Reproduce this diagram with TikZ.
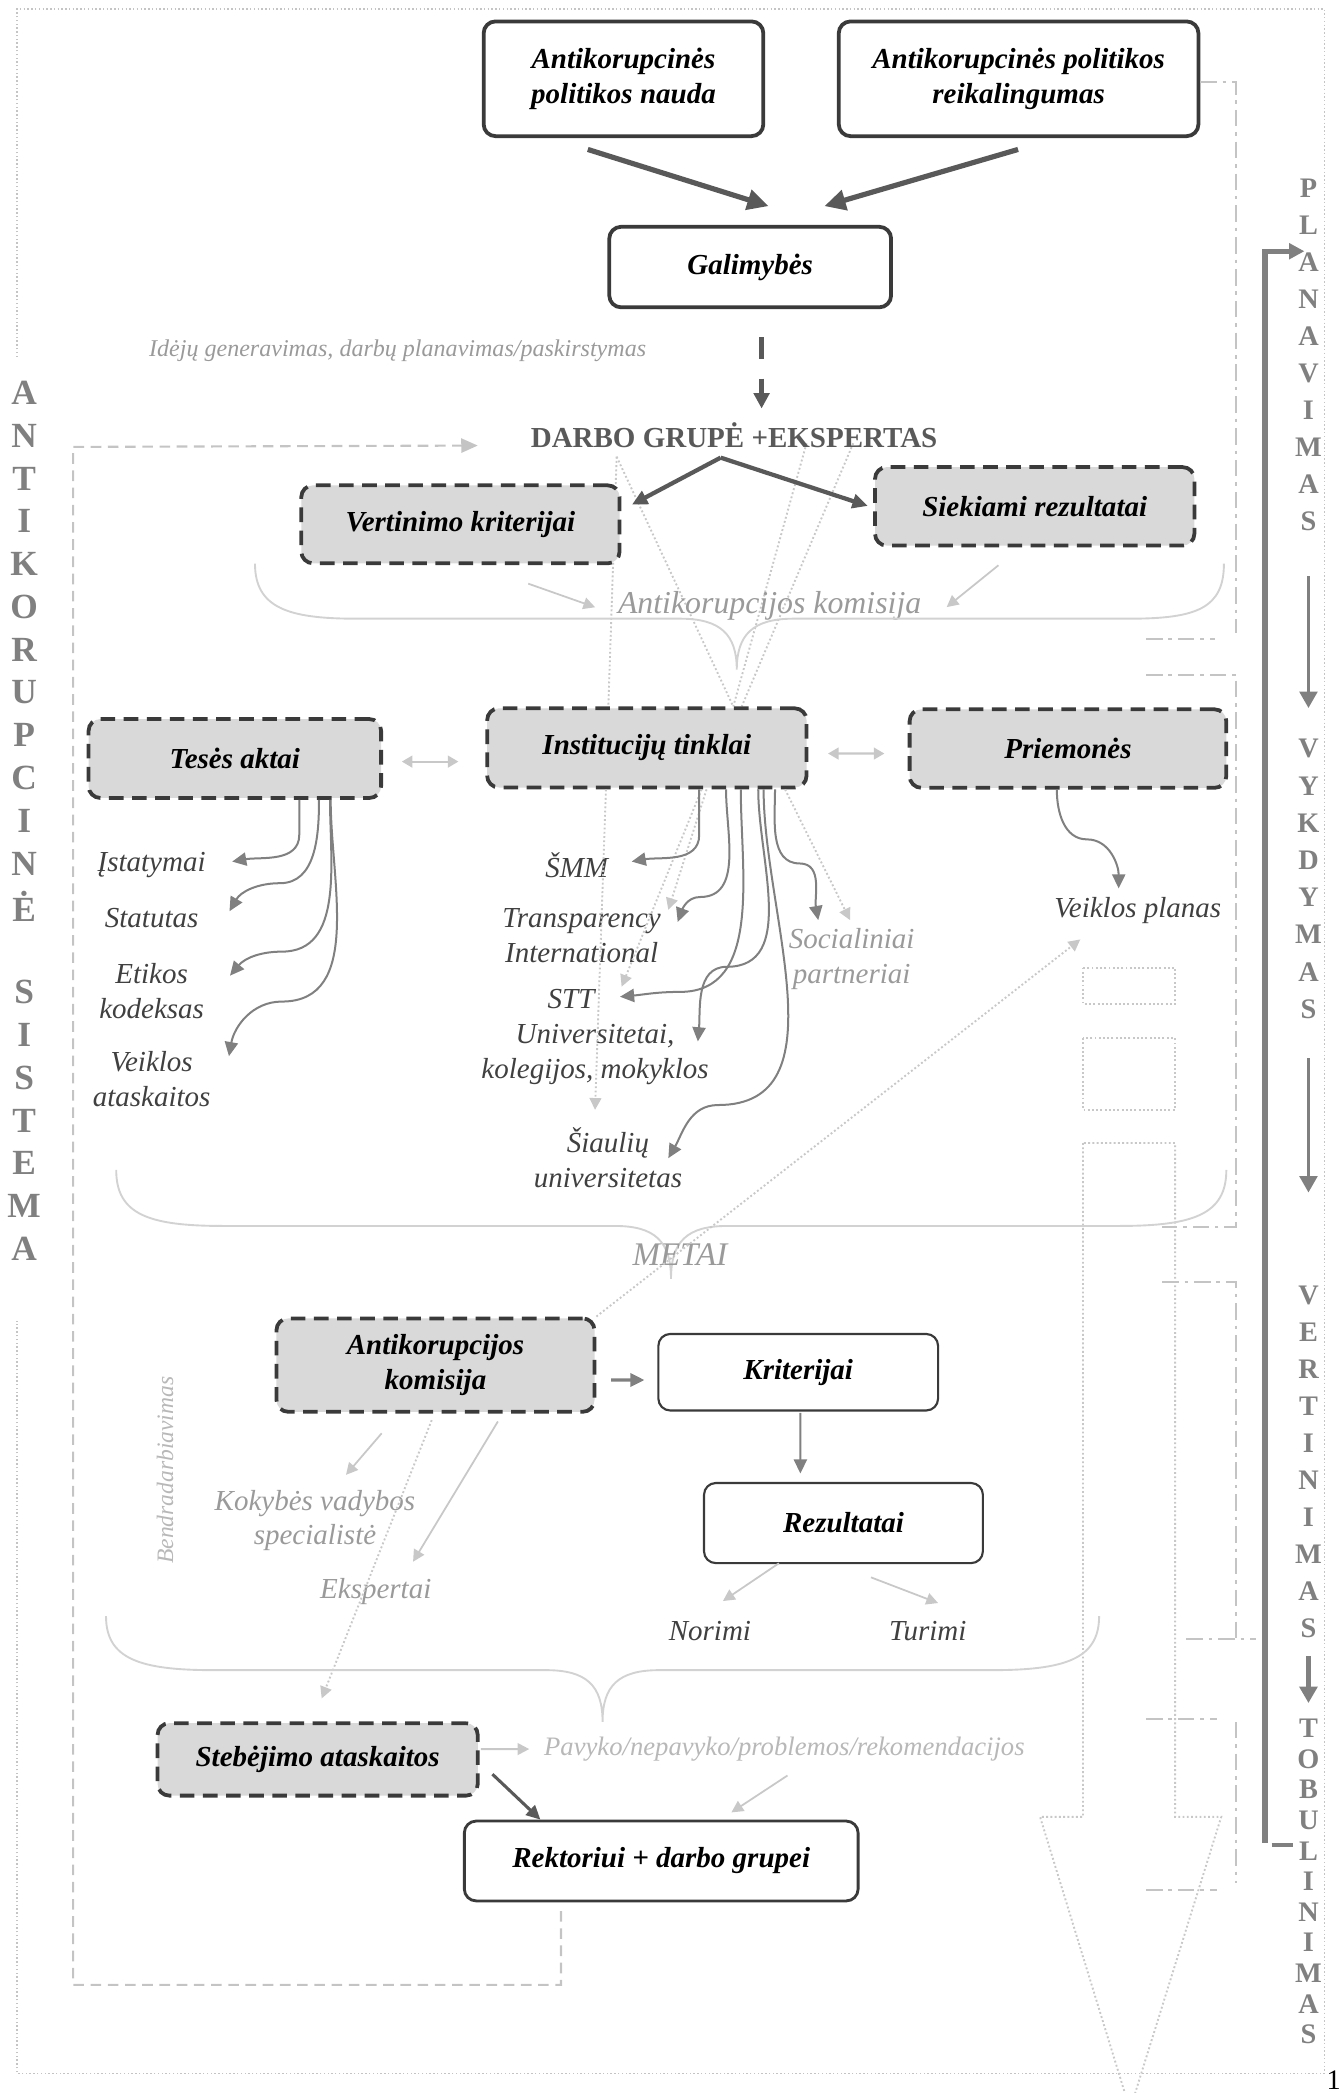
\documentclass[tikz,border=0pt]{standalone}
\usepackage{fontspec}
\setmainfont{Liberation Serif}
\usetikzlibrary{shapes,arrows,arrows.meta,calc,backgrounds}

\definecolor{boxline}{HTML}{3A3A3A}
\definecolor{boxfill}{HTML}{D9D9D9}
\definecolor{darkline}{HTML}{595959}
\definecolor{midline}{HTML}{808080}
\definecolor{paleline}{HTML}{C8C8C8}
\definecolor{frameline}{HTML}{C4C4C4}
\definecolor{braceline}{HTML}{D2D2D2}
\definecolor{labeltext}{HTML}{404040}
\definecolor{greytext}{HTML}{9A9A9A}
\definecolor{paletext}{HTML}{B8B8B8}

\newlength{\px}
\setlength{\px}{0.02cm}
\newcommand{\boxfont}{\fontsize{12.3}{14.7}\selectfont\bfseries\itshape}
\newcommand{\lblfont}{\fontsize{12.3}{14.7}\selectfont\itshape}

\tikzstyle{block} = [rectangle, draw=boxline, line width=1.6pt, rounded corners=5pt,
    fill=white, text=black, align=center, inner sep=0pt, font=\boxfont]
\tikzstyle{dashblock} = [block, fill=boxfill, dash pattern=on 6.2pt off 3.6pt]
\tikzstyle{thinblock} = [block, line width=0.9pt]
\tikzstyle{grouptitle} = [text=darkline, inner sep=0pt, font=\fontsize{12.3}{14.7}\selectfont\bfseries]
\tikzstyle{lbl} = [text=labeltext, align=center, inner sep=0pt, font=\lblfont]
\tikzstyle{greylbl} = [lbl, text=greytext]
\tikzstyle{palelbl} = [lbl, text=paletext]
\tikzstyle{sideletter} = [text=midline, inner sep=0pt, font=\fontsize{15}{17}\selectfont\bfseries]
\tikzstyle{phase} = [text=midline, inner sep=0pt, font=\fontsize{12}{14}\selectfont\bfseries]
\tikzstyle{bigline} = [draw=darkline, line width=2.2pt, -{Triangle[length=9pt,width=8.5pt]}]
\tikzstyle{line} = [draw=midline, line width=0.85pt, -{Triangle[length=6pt,width=5.6pt]}]
\tikzstyle{faint} = [draw=paleline, line width=0.75pt, -{Triangle[length=5pt,width=5pt]}]
\tikzstyle{twoway} = [draw=paleline, line width=0.9pt,
    arrows={Triangle[length=4.5pt,width=5pt]-Triangle[length=4.5pt,width=5pt]}]
\tikzstyle{fan} = [draw=paleline, line width=0.8pt, densely dotted]
\tikzstyle{fanarrow} = [fan, -{Triangle[length=5pt,width=5pt]}]
\tikzstyle{outerframe} = [draw=frameline, line width=0.6pt, densely dotted]
\tikzstyle{bracketline} = [draw=frameline, line width=0.8pt, dash pattern=on 7pt off 2.5pt on 1.5pt off 2.5pt]
\tikzstyle{loopline} = [draw=frameline, line width=0.9pt, dash pattern=on 4.5pt off 2.8pt,
    -{Triangle[length=7pt,width=6pt]}]
\tikzstyle{bracecurve} = [draw=braceline, line width=0.8pt]
\tikzstyle{stage} = [draw=midline, line width=1.5pt, -{Triangle[length=7pt,width=7.5pt]}]

\begin{document}
\begin{tikzpicture}[x=0.02cm, y=-0.02cm]
\useasboundingbox (0,0) rectangle (1000,1559.6);

\draw[outerframe] (12.8,266) -- (12.8,6.6) -- (987,6.6) -- (987,1545) -- (12.8,1545) -- (12.8,984);

% top
\node [block, minimum width=208.4\px, minimum height=85.5\px] (nauda) at (464.6,58.7) {Antikorupcinės\\politikos nauda};
\node [block, minimum width=268\px, minimum height=85.5\px] (reikal) at (759,58.7) {Antikorupcinės politikos\\reikalingumas};
\node [block, minimum width=210\px, minimum height=60\px] (galim) at (559,199) {Galimybės};
\node [greylbl, font=\fontsize{10.2}{12}\selectfont\itshape] (ideju) at (296.3,261) {Idėjų generavimas, darbų planavimas/paskirstymas};
\node [grouptitle] (darbo) at (547,324) {DARBO GRUPĖ +EKSPERTAS};
\node [dashblock, minimum width=237.2\px, minimum height=58.1\px] (vertin) at (343.1,390.7) {Vertinimo kriterijai};
\node [dashblock, minimum width=238\px, minimum height=58.5\px] (siek) at (771,377.3) {Siekiami rezultatai};
\node [greylbl, font=\fontsize{13.5}{16}\selectfont\itshape] (komisija) at (573.5,451.6) {Antikorupcijos komisija};

\path [bigline] ($(nauda.south)+(-26.6,8.5)$) -- ($(galim.north)+(13.7,-14)$);
\path [bigline] ($(reikal.south)+(-0.4,8.5)$) -- ($(galim.north)+(55.3,-14)$);
\path [bigline, line width=1.9pt, dash pattern=on 9pt off 8.5pt, -{Triangle[length=6.5pt,width=6.5pt]}]
    ($(galim.south)+(8.5,21)$) -- ($(galim.south)+(8.5,74)$);
\path [bigline, line width=1.8pt, -{Triangle[length=6.5pt,width=6pt]}] ($(darbo.center)+(-10,17)$) -- ($(vertin.east)+(7.8,-14.7)$);
\path [bigline, line width=1.8pt, -{Triangle[length=6.5pt,width=6pt]}] ($(darbo.center)+(-10,17)$) -- ($(siek.west)+(-4,-0.3)$);
\path [faint] ($(vertin.south)+(50.5,13.75)$) -- ($(komisija.center)+(-130,0.9)$);
\path [faint] ($(siek.south)+(-27,13.25)$) -- ($(komisija.center)+(131.9,0.8)$);

\draw[bracecurve] (190,420) .. controls (190,453) and (215,461) .. (265,461) -- (507,461)
    .. controls (537,461) and (549,473) .. (549,499) .. controls (549,473) and (561,461) .. (591,461)
    -- (842,461) .. controls (892,461) and (912,453) .. (912,420);

% middle
\node [dashblock, minimum width=218\px, minimum height=58.8\px] (teises) at (175,565.2) {Tesės aktai};
\node [dashblock, minimum width=238\px, minimum height=59\px] (instit) at (482,557.3) {Institucijų tinklai};
\node [dashblock, minimum width=236\px, minimum height=58.5\px] (priem) at (795.8,557.8) {Priemonės};

\node [lbl] (istat) at (113,644.6) {Įstatymai};
\node [lbl] (statut) at (113,684.4) {Statutas};
\node [lbl] (etikos) at (113,738.6) {Etikos\\kodeksas};
\node [lbl] (veikl) at (113,804.2) {Veiklos\\ataskaitos};
\node [lbl] (smm) at (429.7,644.6) {ŠMM};
\node [lbl] (transp) at (433.4,697) {Transparency\\International};
\node [lbl] (stt) at (425.5,744.7) {STT};
\node [lbl] (univ) at (443.4,786) {Universitetai,\\kolegijos, mokyklos};
\node [lbl] (siaul) at (453,862.5) {Šiaulių\\universitetas};
\node [greylbl] (social) at (634.6,714.7) {Socialiniai\\partneriai};
\node [lbl] (vplanas) at (847.8,678.8) {Veiklos planas};

\begin{pgfonlayer}{background}
\path [fan] ($(darbo.center)+(-87.5,16.3)$) -- ($(instit.north)+(-28.7,0)$);
\path [fan] ($(darbo.center)+(-87.5,16.3)$) -- ($(instit.north)+(64.4,0)$);
\path [fan] ($(darbo.center)+(54,6.3)$) -- ($(instit.north)+(64.4,0)$);
\path [fan] ($(darbo.center)+(88.8,6.3)$) -- ($(instit.north)+(70.7,0)$);
\end{pgfonlayer}
\path [fanarrow] ($(instit.south)+(-30.5,0)$) -- ($(siaul.center)+(-9.6,-35.5)$);
\path [fanarrow] ($(instit.south)+(40.8,0)$) -- ($(stt.center)+(37.7,-9.5)$);
\path [fanarrow] ($(instit.south)+(44.5,0)$) -- ($(transp.center)+(64.6,-19)$);
\path [fanarrow] ($(instit.south)+(103,0)$) -- ($(social.center)+(-1.2,-29.1)$);

\path [twoway] ($(teises.east)+(14,2.3)$) -- ($(instit.west)+(-20,10.2)$);
\path [twoway] ($(instit.east)+(14.6,4.2)$) -- ($(priem.west)+(-17.4,3.7)$);

\path [line] ($(teises.south)+(48,0)$) -- ++(0,26) to[out=-90,in=10] ($(istat.center)+(60,-2.6)$);
\path [line] ($(teises.south)+(62.7,0)$) to[out=-90,in=0] ++(-29.1,62.1) to[out=180,in=60] ($(statut.center)+(58,-5.4)$);
\path [line] ($(teises.south)+(70.9,0)$) to[out=-90,in=0] ++(-35.9,113.1) to[out=180,in=50] ($(etikos.center)+(58.4,-11.6)$);
\path [line] ($(teises.south)+(71.4,0)$) to[out=-90,in=0] ++(-36.4,150.3) to[out=180,in=80] ($(veikl.center)+(57.6,-17.2)$);

\path [line] ($(instit.south)+(39,0)$) -- ++(0,34) to[out=-90,in=10] ($(smm.center)+(41,-2.6)$);
\path [line] ($(instit.south)+(59,0)$) to[out=-90,in=0] ++(-19.4,80.2) to[out=180,in=70] ($(transp.center)+(71.6,-10)$);
\path [line] ($(instit.south)+(70,0)$) to[out=-90,in=0] ++(-45.3,150.9) to[out=180,in=5] ($(stt.center)+(36.5,-2)$);
\path [line] ($(instit.south)+(83,0)$) to[out=-90,in=0] ++(-23.5,132.2) to[out=180,in=85] ($(univ.center)+(76.6,-10)$);
\path [line] ($(instit.south)+(87,0)$) to[out=-90,in=0] ++(-34,235.2) to[out=180,in=60] ($(siaul.center)+(45,0.5)$);
\path [line] ($(instit.south)+(95.5,0)$) to[out=-90,in=180] ++(18.5,55.2) to[out=0,in=100] ($(social.center)+(-24.9,-29.1)$);
\path [line] ($(priem.south)+(-8.3,0)$) to[out=-90,in=180] ++(22.5,37) to[out=0,in=90] ($(vplanas.center)+(-14.2,-16.8)$);

\draw[fan] (807,721) rectangle (875.6,748);
\draw[fan] (807,773.6) rectangle (875.6,827);
\draw[fan] (807,851.7) -- (807,1353.8) -- (775,1353.8) -- (842,1572) -- (910,1353.8) -- (875.6,1353.8) -- (875.6,851.7) -- cycle;

\draw[bracecurve] (86.6,871.8) .. controls (86.6,905) and (111,913.5) .. (166,913.5) -- (458,913.5)
    .. controls (488,913.5) and (500,925) .. (500,953) .. controls (500,925) and (512,913.5) .. (542,913.5)
    -- (834,913.5) .. controls (889,913.5) and (913.8,905) .. (913.8,871.8);
\node [greylbl, font=\fontsize{14}{16}\selectfont\itshape] (metai) at (506.6,935) {METAI};

% bottom
\node [dashblock, minimum width=237\px, minimum height=69.6\px] (akomis) at (324.5,1017.2) {Antikorupcijos\\komisija};
\node [thinblock, minimum width=208.4\px, minimum height=57\px] (krit) at (594.8,1022.5) {Kriterijai};
\node [thinblock, minimum width=207.8\px, minimum height=59.7\px] (rezult) at (628.5,1134.9) {Rezultatai};
\node [lbl] (norimi) at (529,1215.5) {Norimi};
\node [lbl] (turimi) at (691.3,1215.5) {Turimi};
\node [greylbl] (kokyb) at (234.7,1133) {Kokybės vadybos\\specialistė};
\node [greylbl] (eksp) at (280,1186) {Ekspertai};
\node [palelbl, font=\fontsize{10}{12}\selectfont\itshape, rotate=90] (bendr) at (123,1095.5) {Bendradarbiavimas};
\node [dashblock, minimum width=238.6\px, minimum height=54\px] (stebej) at (236.7,1311) {Stebėjimo ataskaitos};
\node [palelbl, font=\fontsize{11.3}{13}\selectfont\itshape] (pavyko) at (584.5,1303) {Pavyko/nepavyko/problemos/rekomendacijos};
\node [block, line width=1.2pt, minimum width=293.4\px, minimum height=59.5\px] (rekt) at (492.7,1386.7) {Rektoriui + darbo grupei};

\path [line, line width=1.3pt] ($(akomis.east)+(11,11.1)$) -- ($(krit.west)+(-9.6,5.8)$);
\path [line] ($(krit.south)+(1.6,1)$) -- ($(rezult.north)+(-32.1,-6.3)$);
\path [faint] ($(rezult.south)+(-48.1,-0.7)$) -- ($(norimi.center)+(9.7,-22.5)$);
\path [faint] ($(rezult.south)+(20.5,9.8)$) -- ($(turimi.center)+(7.7,-21)$);
\path [faint] ($(akomis.south)+(-40.1,14.6)$) -- ($(kokyb.center)+(23.1,-34)$);
\path [faint] ($(akomis.south)+(46.5,5.8)$) -- ($(eksp.center)+(27.8,-22.3)$);
\path [fanarrow] ($(akomis.south)+(-2.8,4.8)$) -- ($(stebej.north)+(3,-17)$);
\path [fanarrow] (akomis.north east) -- ($(vplanas.center)+(-42.8,21.2)$);
\path [faint, line width=0.9pt] ($(stebej.east)+(1,-7.7)$) -- ($(pavyko.center)+(-190.1,0.3)$);
\path [line, draw=darkline, line width=1.3pt] ($(stebej.east)+(9.5,11)$) -- ($(rekt.north)+(-90,0)$);
\path [faint] ($(pavyko.center)+(2.3,20)$) -- ($(rekt.north)+(52.3,-5.4)$);

\draw[bracecurve] (79,1204.3) .. controls (79,1236) and (104,1244.5) .. (159,1244.5) -- (407,1244.5)
    .. controls (437,1244.5) and (449,1256) .. (449,1283) .. controls (449,1256) and (461,1244.5) .. (491,1244.5)
    -- (739,1244.5) .. controls (794,1244.5) and (819,1236) .. (819,1204.3);

\path [loopline] ($(rekt.south)+(-74.7,6.5)$) -- ++(0,55) -- ++(-363.5,0) -- ++(0,-1146) -- ($(darbo.center)+(-191,8)$);

% right side
\draw[bracketline] ($(reikal.east)+(0,2.3)$) -| (921,472);
\draw[bracketline] (854,476) -- (905,476);
\draw[bracketline] (854,503) -- (921,503) -- (921,914) -- (866,914);
\draw[bracketline] (866,955) -- (921,955) -- (921,1221);
\draw[bracketline] (884,1221) -- (936,1221);
\draw[bracketline] (854,1281) -- (907,1281);
\draw[bracketline] (921,1283) -- (921,1403);
\draw[bracketline] (854,1408.5) -- (907,1408.5);

\foreach \ch [count=\i from 0] in {A,N,T,I,K,O,R,U,P,C,I,N,Ė}
    \node [sideletter] (as\i) at (18,{292.7+31.9*\i}) {\ch};
\foreach \ch [count=\i from 0] in {S,I,S,T,E,M,A}
    \node [sideletter] (ss\i) at (18,{739.3+31.9*\i}) {\ch};

\foreach \ch [count=\i from 0] in {P,L,A,N,A,V,I,M,A,S}
    \node [phase] (pl\i) at (975,{140+27.6*\i}) {\ch};
\foreach \ch [count=\i from 0] in {V,Y,K,D,Y,M,A,S}
    \node [phase] (vy\i) at (975,{558+27.7*\i}) {\ch};
\foreach \ch [count=\i from 0] in {V,E,R,T,I,N,I,M,A,S}
    \node [phase] (ve\i) at (975,{965+27.6*\i}) {\ch};
\foreach \ch [count=\i from 0] in {T,O,B,U,L,I,N,I,M,A,S}
    \node [phase] (to\i) at (975,{1288+22.8*\i}) {\ch};

\path [stage] ($(pl9.center)+(0,41)$) -- ($(vy0.center)+(0,-30.4)$);
\path [stage] ($(vy7.center)+(0,36.7)$) -- ($(ve0.center)+(0,-76.4)$);
\path [stage, line width=2.4pt] ($(ve9.center)+(0,20.4)$) -- ($(to0.center)+(0,-19)$);
\path [draw=midline, line width=2.2pt, -{Triangle[length=6.5pt,width=6.5pt]}] (942.6,1373) |- ($(pl2.center)+(-3,-8)$);
\draw[midline, line width=1.7pt] (947.6,1375) -- (963.5,1375);

\node [anchor=north east, inner sep=0pt, font=\fontsize{12}{14}\selectfont] (pagenum) at (999.5,1543) {1};
\end{tikzpicture}
\end{document}
